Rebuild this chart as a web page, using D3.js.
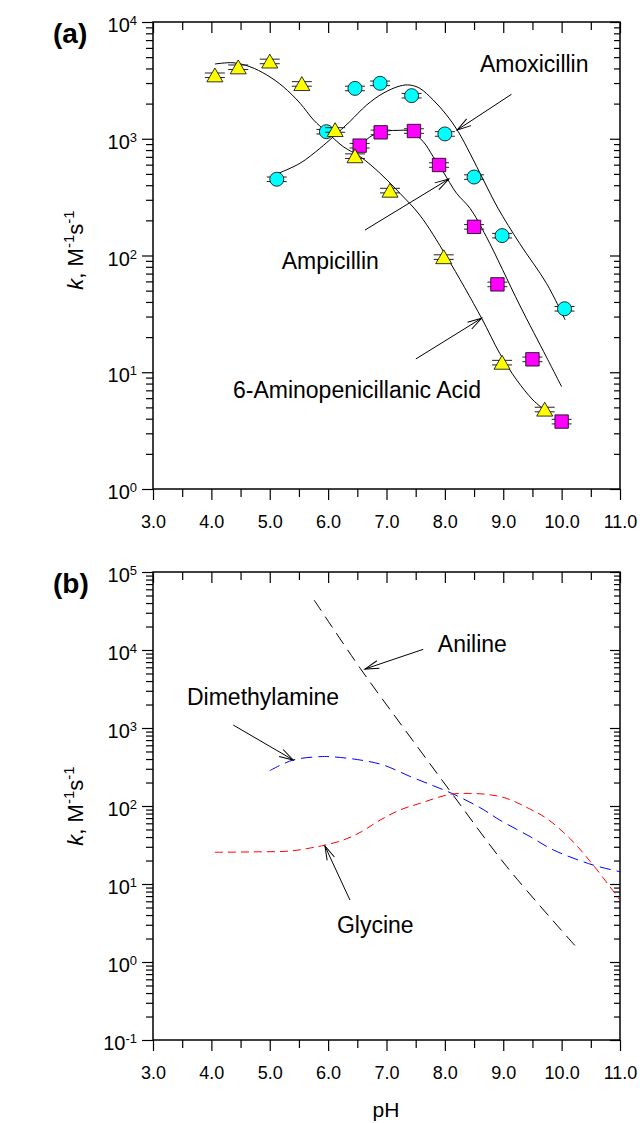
<!DOCTYPE html>
<html>
<head>
<meta charset="utf-8">
<script src="https://cdn.jsdelivr.net/npm/d3@7"></script>
<style>
  body { margin: 0; background: #fff; }
  text { font-family: "Liberation Sans", Arial, sans-serif; }
</style>
</head>
<body>
<script>
// ---- panel (a): measured rate constants ----
var apaPH  = [4.06, 4.46, 5.0, 5.55, 6.12, 6.46, 7.06, 7.98, 8.98, 9.71];
var apaK   = [3500, 4100, 4600, 2950, 1190, 710, 360, 97, 12.1, 4.8];
var amoxPH = [5.12, 5.97, 6.46, 6.89, 7.43, 8.0, 8.5, 8.98, 10.05];
var amoxK  = [450, 1150, 2700, 2985, 2340, 1100, 470, 148, 35];
var ampPH  = [6.54, 6.90, 7.47, 7.90, 8.50, 8.90, 9.50, 10.0];
var ampK   = [873, 1135, 1165, 596, 176, 56.6, 12.9, 3.78];

// fitted curves of panel (a)
var apaFitPH  = [4.06, 4.37, 4.66, 4.95, 5.23, 5.52, 5.75, 5.97, 6.26, 6.55, 6.89, 7.23, 7.57, 8.03, 8.63, 8.94, 9.23, 9.51, 9.71];
var apaFitK   = [4365, 4477, 4140, 3516, 2793, 2014, 1449, 1148, 855, 702, 506, 341, 222, 97.7, 29.0, 14.5, 8.59, 5.78, 4.75];
var amoxFitPH = [5.15, 5.52, 5.86, 6.09, 6.37, 6.66, 6.94, 7.23, 7.40, 7.57, 7.80, 8.03, 8.23, 8.43, 8.66, 8.91, 9.28, 9.74, 10.06];
var amoxFitK  = [506, 617, 828, 1042, 1400, 1945, 2449, 2831, 2884, 2704, 2148, 1596, 1148, 750, 444, 254, 127, 57.8, 28.1];
var ampFitPH  = [6.55, 6.77, 7.00, 7.20, 7.40, 7.63, 7.80, 7.97, 8.20, 8.43, 8.71, 9.28, 9.74, 10.0];
var ampFitK   = [883, 1076, 1164, 1180, 1164, 944, 702, 522, 341, 254, 145, 37.7, 13.5, 7.52];

// ---- panel (b): model curves ----
var anilPH = [5.76, 6.55, 7.23, 8.12, 9.06, 10.28];
var anilK  = [43700, 5820, 1160, 145, 16.7, 1.47];
var dmaPH  = [5.0, 5.4, 5.86, 6.03, 6.5, 6.94, 7.4, 7.8, 8.12, 8.6, 8.94, 9.46, 9.86, 10.54, 11.0];
var dmaK   = [284, 389, 429, 429, 394, 336, 240, 182, 145, 95.5, 66.1, 40.5, 27.3, 17.5, 14.4];
var glyPH  = [4.06, 4.7, 5.35, 5.7, 5.945, 6.26, 6.57, 6.89, 7.23, 7.57, 8.09, 8.43, 8.75, 9.06, 9.45, 9.74, 10.14, 10.54, 11.0];
var glyK   = [25.5, 25.8, 26.5, 29, 31.5, 36.6, 46.8, 66, 88.9, 108, 141, 145, 140, 125, 92, 69.5, 38.5, 17.5, 6.2];

// axis ticks
var pHMajor = [3, 4, 5, 6, 7, 8, 9, 10, 11];
var pHMinor = [3.5, 4.5, 5.5, 6.5, 7.5, 8.5, 9.5, 10.5];

// annotations: [text, pH, k]  (label baseline) and arrows [pH0, k0, pH1, k1]
var labelsA = [["Amoxicillin", 8.60, 3730], ["Ampicillin", 5.204, 76.6], ["6-Aminopenicillanic Acid", 4.37, 6.01]];
var arrowsA = [[9.142, 2405, 8.211, 1189], [6.630, 165, 8.068, 452], [7.503, 13.0, 8.628, 29.0]];
var labelsB = [["Aniline", 7.88, 9420], ["Dimethylamine", 3.582, 1972], ["Glycine", 6.151, 2.36]];
var arrowsB = [[7.628, 10200, 6.630, 5700], [4.375, 1091, 5.402, 389], [6.373, 6.24, 5.945, 30.7]];

var relErr = 0.045;

var svg = d3.select('body').append('svg').attr('width', 640).attr('height', 1123);

svg.append('defs').append('marker')
  .attr('id', 'arr').attr('markerUnits', 'userSpaceOnUse')
  .attr('markerWidth', 20).attr('markerHeight', 20)
  .attr('refX', 0).attr('refY', 0).attr('orient', 'auto')
  .attr('viewBox', '-16 -8 20 16')
  .append('path').attr('d', 'M-14,-4L0,0L-14,4')
  .attr('fill', 'none').attr('stroke', '#000').attr('stroke-width', 1);

var x = d3.scaleLinear().domain([3, 11]).range([153, 620]);
var yA = d3.scaleLog().domain([1, 1e4]).range([489, 22]);
var yB = d3.scaleLog().domain([0.1, 1e5]).range([1040, 572]);

function isDecade(d) {
  var l = Math.log10(d);
  return Math.abs(l - Math.round(l)) < 1e-6;
}

function drawAxes(y, top, bottom) {
  var all = y.ticks();
  var major = all.filter(isDecade);
  var minor = all.filter(function (d) { return !isDecade(d); });

  var gb = svg.append('g').attr('transform', 'translate(0,' + bottom + ')')
    .call(d3.axisBottom(x).tickValues(pHMajor).tickSize(11).tickPadding(15).tickFormat(d3.format('.1f')));
  svg.append('g').attr('transform', 'translate(0,' + bottom + ')')
    .call(d3.axisBottom(x).tickValues(pHMinor).tickSize(8).tickFormat(''));
  svg.append('g').attr('transform', 'translate(0,' + top + ')')
    .call(d3.axisTop(x).tickValues(pHMajor).tickSize(-11).tickFormat(''));
  svg.append('g').attr('transform', 'translate(0,' + top + ')')
    .call(d3.axisTop(x).tickValues(pHMinor).tickSize(-8).tickFormat(''));

  var gl = svg.append('g').attr('transform', 'translate(153,0)')
    .call(d3.axisLeft(y).tickValues(major).tickSize(11).tickPadding(5).tickFormat(function (d) { return d; }));
  svg.append('g').attr('transform', 'translate(153,0)')
    .call(d3.axisLeft(y).tickValues(minor).tickSize(7).tickFormat(''));
  svg.append('g').attr('transform', 'translate(620,0)')
    .call(d3.axisRight(y).tickValues(major).tickSize(-10).tickFormat(''));
  svg.append('g').attr('transform', 'translate(620,0)')
    .call(d3.axisRight(y).tickValues(minor).tickSize(-6).tickFormat(''));

  gb.selectAll('text').attr('font-size', 18).attr('fill', '#000');
  gl.selectAll('.tick text').each(function (d) {
    var t = d3.select(this).text(null).attr('dy', null).attr('fill', '#000');
    t.append('tspan').attr('font-size', 20).attr('dy', 9.5).text('10');
    t.append('tspan').attr('font-size', 13).attr('dy', -7).text(Math.round(Math.log10(d)));
  });

  svg.selectAll('.domain').remove();
  svg.selectAll('.tick line').attr('stroke', '#000').attr('stroke-width', 1.2);
  svg.append('rect').attr('x', 153).attr('y', top).attr('width', 467).attr('height', bottom - top)
    .attr('fill', 'none').attr('stroke', '#000').attr('stroke-width', 1.5);
}

function yLabel(cy) {
  var t = svg.append('text').attr('transform', 'translate(83,' + cy + ') rotate(-90)')
    .attr('text-anchor', 'middle').attr('font-size', 22);
  t.append('tspan').attr('font-style', 'italic').text('k');
  t.append('tspan').text(', M');
  t.append('tspan').attr('font-size', 15).attr('dy', -9).text('-1');
  t.append('tspan').attr('dy', 9).text('s');
  t.append('tspan').attr('font-size', 15).attr('dy', -9).text('-1');
}

function curve(ph, k, y, color, dash) {
  var pts = ph.map(function (d, i) { return [d, k[i]]; });
  var line = d3.line().x(function (d) { return x(d[0]); }).y(function (d) { return y(d[1]); })
    .curve(d3.curveCatmullRom.alpha(0.5));
  svg.append('path').datum(pts).attr('d', line)
    .attr('fill', 'none').attr('stroke', color).attr('stroke-width', 1)
    .attr('stroke-dasharray', dash || null);
}

function points(ph, k, y, type, fill, dy) {
  var pts = ph.map(function (d, i) { return [d, k[i]]; });
  var g = svg.append('g');
  // error bars
  g.selectAll('g.err').data(pts).enter().append('g').each(function (d) {
    var e = d3.select(this), cx = x(d[0]);
    var y0 = y(d[1] * (1 + relErr)), y1 = y(d[1] * (1 - relErr));
    e.append('line').attr('x1', cx).attr('x2', cx).attr('y1', y0).attr('y2', y1);
    e.append('line').attr('x1', cx - 10).attr('x2', cx + 10).attr('y1', y0).attr('y2', y0);
    e.append('line').attr('x1', cx - 10).attr('x2', cx + 10).attr('y1', y1).attr('y2', y1);
  }).attr('stroke', '#222').attr('stroke-width', 1);
  g.selectAll('path').data(pts).enter().append('path')
    .attr('d', d3.symbol().type(type.sym).size(type.size))
    .attr('transform', function (d) { return 'translate(' + x(d[0]) + ',' + (y(d[1]) + dy) + ')'; })
    .attr('fill', fill).attr('stroke', '#000').attr('stroke-width', 0.8);
}

function annotate(labels, arrows, y) {
  labels.forEach(function (l) {
    svg.append('text').attr('x', x(l[1])).attr('y', y(l[2])).attr('font-size', 23).text(l[0]);
  });
  arrows.forEach(function (a) {
    svg.append('line').attr('x1', x(a[0])).attr('y1', y(a[1])).attr('x2', x(a[2])).attr('y2', y(a[3]))
      .attr('stroke', '#000').attr('stroke-width', 1).attr('marker-end', 'url(#arr)');
  });
}

// ---- panel (a) ----
drawAxes(yA, 22, 489);
yLabel(250);
svg.append('text').attr('x', 53).attr('y', 43).attr('font-size', 28).attr('font-weight', 'bold').text('(a)');
curve(apaFitPH, apaFitK, yA, '#000');
curve(amoxFitPH, amoxFitK, yA, '#000');
curve(ampFitPH, ampFitK, yA, '#000');
points(amoxPH, amoxK, yA, { sym: d3.symbolCircle, size: 154 }, '#00ffff', 0);
points(ampPH, ampK, yA, { sym: d3.symbolSquare, size: 180 }, '#ff00ff', 0);
points(apaPH, apaK, yA, { sym: d3.symbolTriangle, size: 111 }, '#ffff00', 2);
annotate(labelsA, arrowsA, yA);

// ---- panel (b) ----
drawAxes(yB, 572, 1040);
yLabel(806);
svg.append('text').attr('x', 53).attr('y', 593).attr('font-size', 28).attr('font-weight', 'bold').text('(b)');
curve(anilPH, anilK, yB, '#000', '13,7');
curve(dmaPH, dmaK, yB, '#0000ff', '11,6');
curve(glyPH, glyK, yB, '#ff0000', '8,5');
annotate(labelsB, arrowsB, yB);

svg.append('text').attr('x', 386).attr('y', 1117).attr('text-anchor', 'middle').attr('font-size', 21).text('pH');
</script>
</body>
</html>
